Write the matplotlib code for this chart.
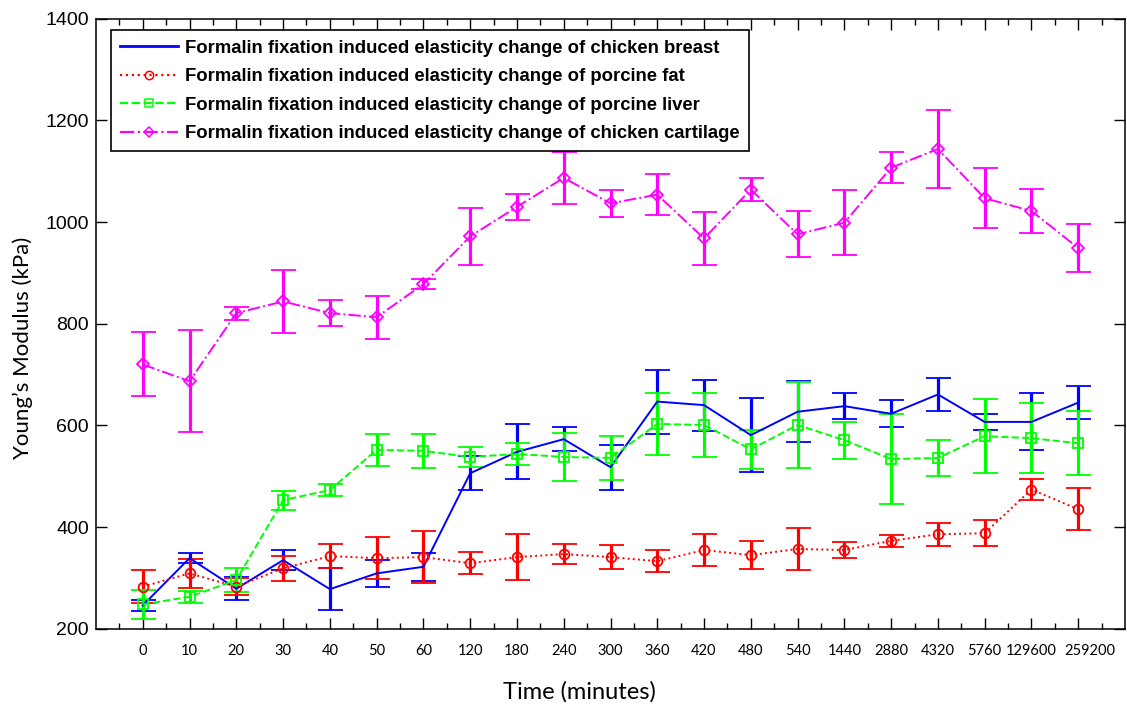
import numpy as np
import matplotlib
matplotlib.use('Agg')
import matplotlib.pyplot as plt
import matplotlib.transforms as mtransforms
from matplotlib.lines import Line2D
from matplotlib.ticker import FixedLocator

# time points (plotted at equal spacing, labelled with the minute value)
time_labels = ['0', '10', '20', '30', '40', '50', '60', '120', '180', '240', '300',
               '360', '420', '480', '540', '1440', '2880', '4320', '5760', '129600', '259200']

breast = [246, 339, 279, 335, 278, 309, 322, 506, 548, 573, 518,
          647, 640, 581, 627, 638, 623, 661, 607, 607, 645]
breast_err = [11, 10, 22, 20, 41, 27, 28, 33, 54, 24, 44,
              63, 50, 73, 60, 25, 27, 33, 16, 56, 33]

fat = [283, 309, 283, 319, 343, 339, 341, 329, 341, 347, 341,
       333, 355, 345, 357, 355, 373, 386, 388, 474, 435]
fat_err = [32, 28, 16, 24, 23, 42, 51, 22, 45, 20, 23,
           22, 32, 28, 41, 16, 12, 23, 26, 20, 41]

liver = [248, 263, 296, 453, 473, 552, 550, 538, 544, 538, 536,
         603, 601, 553, 601, 571, 534, 536, 579, 575, 565]
liver_err = [28, 12, 23, 19, 12, 31, 33, 20, 22, 48, 44,
             61, 63, 39, 84, 36, 88, 35, 73, 69, 63]

cartilage = [720, 687, 821, 844, 821, 813, 878, 972, 1030, 1087, 1037,
             1054, 968, 1064, 976, 999, 1107, 1144, 1047, 1022, 949]
cartilage_err = [63, 100, 13, 62, 25, 42, 10, 56, 25, 51, 27,
                 40, 52, 22, 45, 64, 31, 77, 59, 43, 48]

names = ['Formalin fixation induced elasticity change of chicken breast',
         'Formalin fixation induced elasticity change of porcine fat',
         'Formalin fixation induced elasticity change of porcine liver',
         'Formalin fixation induced elasticity change of chicken cartilage']

x = np.arange(len(time_labels))

fig = plt.figure(figsize=(11.27, 7.06), dpi=100)
ax = fig.add_axes([96/1127, (706-628.8)/706, 1029/1127, 610/706])

series = [
    (breast, breast_err, '#0000ff', '-', None),
    (fat, fat_err, '#ff0000', ':', 'o'),
    (liver, liver_err, '#00ff00', '--', 's'),
    (cartilage, cartilage_err, '#ff00ff', '-.', 'D'),
]
handles = []
for (vals, err, col, ls, mk), name in zip(series, names):
    ms = 7 if mk != 'D' else 6
    ax.errorbar(x, vals, yerr=err, color=col, ls=ls, lw=1.4, marker=mk, ms=ms,
                mfc='none', mec=col, mew=1.3, elinewidth=2.3, capsize=9,
                capthick=2.5)
    handles.append(Line2D([], [], color=col, ls=ls, lw=2 if mk is None else 1.6,
                          marker=mk, ms=6 if mk != 'D' else 5.5, mfc='none',
                          mec=col, mew=1.1, label=name))

ax.set_xlim(-1, 21)
ax.set_ylim(200, 1400)
ax.set_yticks(np.arange(200, 1401, 200))
ax.set_xticks(x)
ax.set_xticklabels(time_labels, family='Lato', fontsize=10.5)
ax.xaxis.set_minor_locator(FixedLocator(np.arange(-0.5, 21, 1.0)))
for t in ax.get_yticklabels():
    t.set_family('Liberation Sans')
    t.set_fontsize(14)

ax.tick_params(which='both', direction='in', top=True, right=True, width=1)
ax.tick_params(axis='x', which='major', length=8, pad=11)
ax.tick_params(axis='x', which='minor', length=4)
ax.tick_params(axis='y', which='major', length=8, pad=5)
for s in ax.spines.values():
    s.set_linewidth(1.1)

# the last label sits a little to the right in the original
last = ax.xaxis.get_major_ticks()[-1].label1
last.set_transform(last.get_transform() +
                   mtransforms.ScaledTranslation(12/100, 0, fig.dpi_scale_trans))

ax.set_xlabel('Time (minutes)', family='Lato', fontsize=17, va='center')
ax.xaxis.set_label_coords(0.47, -0.1036)
ax.set_ylabel('Young\u2019s Modulus (kPa)', family='Lato', fontsize=16, va='center')
ax.yaxis.set_label_coords(-0.071, 0.46)

leg = ax.legend(handles=handles, loc='upper left', bbox_to_anchor=(0.0146, 0.981),
                borderaxespad=0,
                prop={'family': 'Liberation Sans', 'weight': 'bold', 'size': 13.3},
                fancybox=False, edgecolor='black', framealpha=1,
                handlelength=3.1, handletextpad=0.4, borderpad=0.5, labelspacing=0.62)
leg.get_frame().set_linewidth(1.2)

fig.savefig('out.png', dpi=100)
